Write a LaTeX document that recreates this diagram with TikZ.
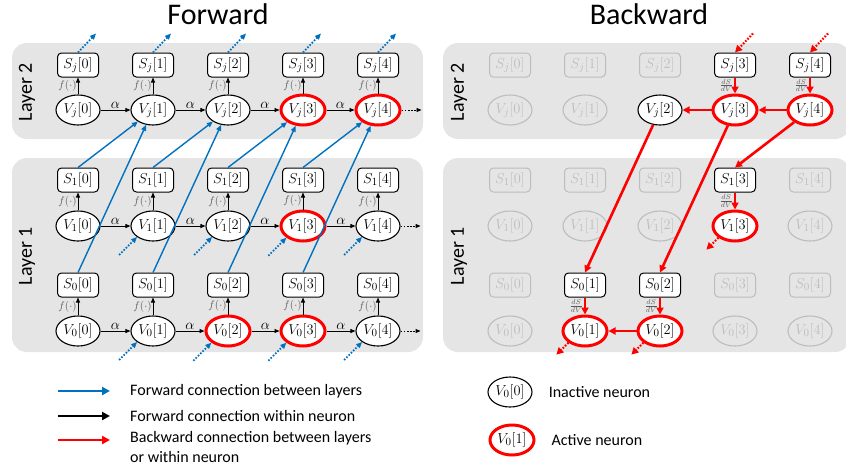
\documentclass[tikz,border=0pt]{standalone}
\usepackage[no-math]{fontspec}
\setmainfont{Carlito}
\usepackage{tikz}
\usetikzlibrary{arrows.meta,positioning,shapes.geometric,calc}
\definecolor{fwdblue}{HTML}{0070C0}
\definecolor{actred}{HTML}{FF0000}
\definecolor{layergray}{HTML}{E5E5E5}
\definecolor{fadegray}{HTML}{BDBDBD}
\definecolor{labgray}{HTML}{595959}
\newcommand{\nodefont}{\fontsize{15}{17}\selectfont}
\tikzset{
  neuron/.style={
    ellipse, draw, line width=1.1pt, fill=white, inner sep=0pt,
    minimum width=44pt, minimum height=30pt, font=\nodefont
  },
  spike/.style={
    draw, line width=1pt, rounded corners=4pt, fill=white, inner sep=0pt,
    minimum width=41pt, minimum height=24pt, font=\nodefont
  },
  hot/.style={draw=actred, line width=3pt},
  lit/.style={draw=black, text=black, fill=white},
  faded/.style={draw=fadegray, text=fadegray, fill=none},
  layerbox/.style={fill=layergray, rounded corners=15pt},
  layername/.style={rotate=90, font=\fontsize{20}{24}\selectfont},
  title/.style={anchor=base, font=\fontsize{30}{36}\selectfont},
  within/.style={-{Triangle[length=5pt,width=4pt]}, line width=0.9pt},
  between/.style={-{Triangle[length=6pt,width=5pt]}, line width=1.4pt, fwdblue},
  back/.style={-{Triangle[length=7pt,width=7pt]}, line width=2.6pt, actred},
  dots/.style={dash pattern=on 1.6pt off 1.6pt},
  flab/.style={left, inner sep=1pt, text=labgray, font=\fontsize{11}{11}\selectfont},
  dlab/.style={left, inner sep=1pt, text=labgray, font=\fontsize{10}{10}\selectfont},
  alab/.style={above, inner sep=1.5pt, font=\nodefont},
  legtext/.style={inner sep=0pt, font=\fontsize{16}{20}\selectfont, align=left},
  legarrow/.style={line width=2.6pt, -{Triangle[length=8pt,width=8pt]}},
  % active neurons, forward pass
  fwd j3/.style=hot, fwd j4/.style=hot, fwd 13/.style=hot,
  fwd 02/.style=hot, fwd 03/.style=hot,
  % nodes on the backward path
  on Sj3/.style=lit, on Sj4/.style=lit, on S13/.style=lit,
  on S01/.style=lit, on S02/.style=lit,
  on Vj2/.style=lit, on Vj3/.style={lit,hot}, on Vj4/.style={lit,hot},
  on V13/.style={lit,hot}, on V01/.style={lit,hot}, on V02/.style={lit,hot},
}
\begin{document}
\begin{tikzpicture}[x=1pt, y=-1pt]
  \useasboundingbox (0,0) rectangle (846,475);

  % layer panels
  \fill[layerbox] (12,43) rectangle (423,139);
  \fill[layerbox] (12,158) rectangle (423,352);
  \fill[layerbox] (443,43) rectangle (850,139);
  \fill[layerbox] (443,158) rectangle (850,352);

  \node[title] (ftitle) at (218,24) {Forward};
  \node[title] (btitle) at (649,24) {Backward};
  \node[layername] (fl2) at (27,92) {Layer 2};
  \node[layername] (fl1) at (27,256) {Layer 1};
  \node[layername] (bl2) at (459,92) {Layer 2};
  \node[layername] (bl1) at (459,256) {Layer 1};

  % forward pass
  \foreach \ly/\sy/\vy in {j/65/110, 1/180/226, 0/285/331} {
    \foreach \ti in {0,...,4} {
      \node[spike] (fS\ly-\ti) at ({78+75*\ti},\sy) {$S_\ly[\ti]$};
      \node[neuron, fwd \ly\ti/.try] (fV\ly-\ti) at ({78+75*\ti},\vy) {$V_\ly[\ti]$};
      \draw[within] (fV\ly-\ti) -- (fS\ly-\ti) node[flab, midway] {$f(\cdot)$};
    }
    \foreach \ti [count=\nx] in {0,...,3}
      \draw[within] (fV\ly-\ti) -- (fV\ly-\nx) node[alab, midway] {$\alpha$};
    \draw[within, dots] (fV\ly-4.east) -- ++(20,0);
  }
  \foreach \ti [count=\nx] in {0,...,3} {
    \draw[between] (fS1-\ti.north) -- (fVj-\nx);
    \draw[between] (fS0-\ti.north) -- (fVj-\nx);
  }
  \foreach \ti in {0,...,4}
    \draw[between, dots, line width=1.8pt] (fSj-\ti.north) -- ++(18,-19);
  \foreach \ti in {1,...,4} {
    \draw[between, dots, line width=1.8pt] (fV1-\ti.south west) ++(-18,18) -- (fV1-\ti.south west);
    \draw[between, dots, line width=1.8pt] (fV0-\ti.south west) ++(-18,18) -- (fV0-\ti.south west);
  }

  % backward pass
  \foreach \ly/\sy/\vy in {j/65/110, 1/180/226, 0/285/331}
    \foreach \ti in {0,...,4} {
      \node[spike, faded, on S\ly\ti/.try] (bS\ly-\ti) at ({510+75*\ti},\sy) {$S_\ly[\ti]$};
      \node[neuron, faded, on V\ly\ti/.try] (bV\ly-\ti) at ({510+75*\ti},\vy) {$V_\ly[\ti]$};
    }
  \foreach \s in {j-3, j-4, 1-3, 0-1, 0-2}
    \draw[back] (bS\s) -- (bV\s) node[dlab, midway] {$\frac{dS}{dV}$};
  \draw[back] (bVj-4) -- (bVj-3);
  \draw[back] (bVj-3) -- (bVj-2);
  \draw[back] (bV0-2) -- (bV0-1);
  \draw[back] (bVj-4) -- (bS1-3.north);
  \draw[back] (bVj-3) -- (bS0-2.north);
  \draw[back] (bVj-2) -- (bS0-1.north);
  \foreach \ti in {3,4}
    \draw[back, dots, line width=2.2pt] (bSj-\ti.north) ++(18,-19) -- (bSj-\ti.north);
  \foreach \s in {1-3, 0-1, 0-2}
    \draw[back, dots, line width=2.2pt] (bV\s.south west) -- ++(-12,12);

  % legend
  \coordinate (lb1) at (58,391);  \coordinate (le1) at (110,391);
  \coordinate (lb2) at (58,416);  \coordinate (le2) at (110,416);
  \coordinate (lb3) at (58,440);  \coordinate (le3) at (110,440);
  \draw[legarrow, fwdblue] (lb1) -- (le1);
  \draw[legarrow, black] (lb2) -- (le2);
  \draw[legarrow, actred] (lb3) -- (le3);
  \node[legtext, right=20pt of le1] (lt1) {Forward connection between layers};
  \node[legtext, right=20pt of le2] (lt2) {Forward connection within neuron};
  \node[legtext, right=20pt of le3, anchor=north west, yshift=9pt] (lt3)
    {Backward connection between layers\\or within neuron};
  \node[neuron] (lgoff) at (510,392) {$V_0[0]$};
  \node[legtext, right=16pt of lgoff] (lgofft) {Inactive neuron};
  \node[neuron, hot] (lgon) at (512,440) {$V_0[1]$};
  \node[legtext, right=16pt of lgon] (lgont) {Active neuron};
\end{tikzpicture}
\end{document}
